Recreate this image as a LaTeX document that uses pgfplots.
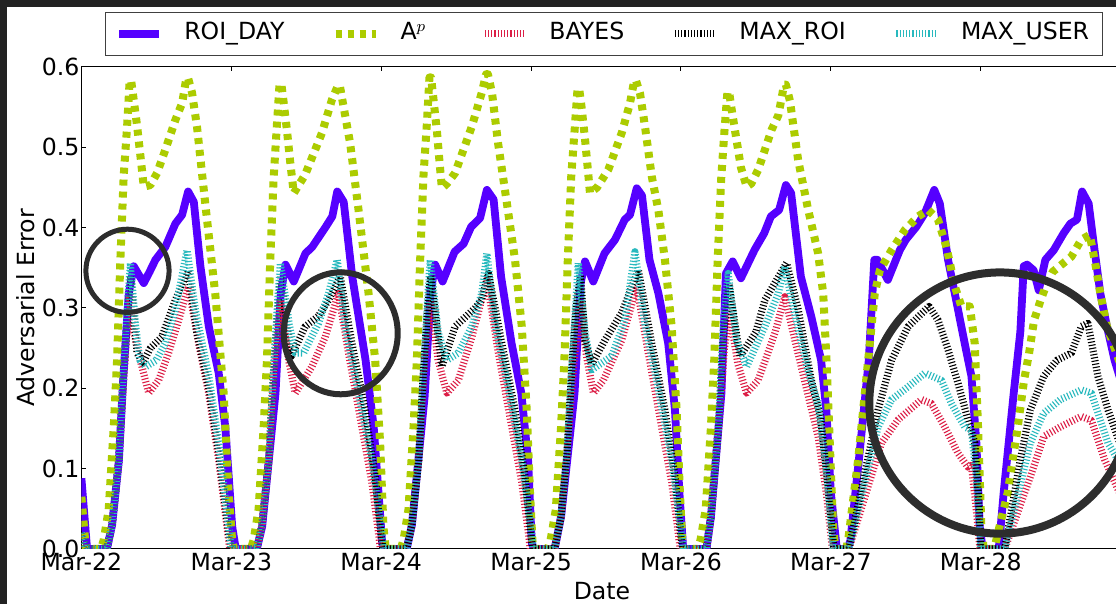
\documentclass[border=0pt]{standalone}
\usepackage{fontspec}
\setmainfont{DejaVu Sans}
\usepackage{pgfplots}
\pgfplotsset{compat=1.18}

\definecolor{roiday}{RGB}{85,0,255}
\definecolor{apcol}{RGB}{172,204,0}
\definecolor{bayes}{RGB}{220,30,70}
\definecolor{maxroi}{RGB}{0,0,0}
\definecolor{maxuser}{RGB}{40,185,190}
\definecolor{screen}{RGB}{34,34,34}
\definecolor{ring}{RGB}{45,45,45}

\newcommand{\lblfont}{\fontsize{11.8}{14}\selectfont}

\tikzset{
  hatch/.style={line width=3.6pt, dash pattern=on 0.55pt off 1.05pt, line join=round},
}

\begin{document}
\begin{tikzpicture}
\fill[white] (0,0) rectangle (558pt,302pt);
\begin{axis}[
  scale only axis,
  width=517.8pt, height=241pt,
  at={(40.7pt,27.5pt)}, anchor=south west,
  xmin=0, xmax=6.909, ymin=0, ymax=0.6,
  xtick={0,1,2,3,4,5,6},
  xticklabels={Mar-22,Mar-23,Mar-24,Mar-25,Mar-26,Mar-27,Mar-28},
  ytick={0,0.1,0.2,0.3,0.4,0.5,0.6},
  yticklabels={0.0,0.1,0.2,0.3,0.4,0.5,0.6},
  xtick pos=both, ytick pos=left,
  tick align=inside,
  major tick length=2.2pt,
  tick style={black, line width=0.5pt},
  axis line style={black, line width=0.5pt},
  tick label style={font=\lblfont},
  xticklabel style={inner ysep=2pt},
  yticklabel style={inner xsep=0.8pt},
  xlabel={Date}, ylabel={Adversarial Error},
  every axis x label/.style={at={(axis description cs:0.5027,-0.0871)}, anchor=center, font=\lblfont},
  every axis y label/.style={at={(axis description cs:-0.0535,0.5)}, rotate=90, anchor=center, font=\lblfont},
  legend columns=5,
  legend cell align=left,
  legend style={
    at={(axis description cs:0.0228,1.1141)}, anchor=north west,
    draw=black!75, line width=0.5pt,
    font=\lblfont,
    inner xsep=5pt, inner ysep=3.5pt,
    nodes={inner sep=1.5pt, text height=8.7pt, text depth=2.6pt},
    /tikz/every odd column/.append style={column sep=9pt},
    /tikz/every even column/.append style={column sep=22pt},
  },
  legend image code/.code={\draw[#1] (0pt,0pt) -- (20pt,0pt);},
]

% ROI_DAY
\addplot[roiday, line width=3.9pt, line join=round] coordinates {
(0,0.088) (0.038,0) (0.17,0) (0.205,0.03) (0.25,0.11) (0.28,0.215) (0.316,0.318) (0.349,0.352) (0.416,0.331) (0.455,0.345) (0.494,0.36) (0.56,0.376) (0.627,0.405) (0.672,0.416) (0.712,0.445) (0.75,0.432) (0.794,0.352) (0.85,0.277) (0.916,0.219) (0.96,0.152) (1.006,0.028) (1.03,0)
(1.17,0) (1.206,0.028) (1.295,0.194) (1.33,0.318) (1.362,0.354) (1.417,0.333) (1.495,0.368) (1.54,0.376) (1.63,0.401) (1.674,0.414) (1.707,0.445) (1.75,0.432) (1.807,0.339) (1.896,0.235) (1.95,0.152) (2.007,0.007) (2.02,0)
(2.17,0) (2.205,0.03) (2.29,0.19) (2.33,0.32) (2.36,0.354) (2.41,0.333) (2.49,0.37) (2.55,0.38) (2.60,0.401) (2.66,0.412) (2.705,0.447) (2.75,0.435) (2.80,0.339) (2.87,0.256) (2.935,0.194) (2.98,0.111) (3.005,0.007) (3.02,0)
(3.157,0) (3.2,0.04) (3.29,0.194) (3.33,0.33) (3.36,0.358) (3.415,0.333) (3.49,0.368) (3.56,0.385) (3.625,0.41) (3.66,0.416) (3.705,0.449) (3.74,0.44) (3.79,0.36) (3.85,0.318) (3.915,0.256) (3.96,0.173) (3.99,0.069) (4.015,0)
(4.17,0) (4.2,0.04) (4.27,0.194) (4.30,0.343) (4.345,0.358) (4.40,0.337) (4.49,0.372) (4.555,0.393) (4.60,0.414) (4.655,0.422) (4.70,0.453) (4.735,0.443) (4.80,0.339) (4.87,0.289) (4.935,0.235) (4.97,0.173) (5.0,0.07) (5.04,0)
(5.11,0) (5.13,0.01) (5.187,0.111) (5.253,0.235) (5.29,0.36) (5.31,0.36) (5.38,0.335) (5.46,0.372) (5.50,0.385) (5.57,0.401) (5.627,0.418) (5.69,0.447) (5.727,0.43) (5.782,0.36) (5.827,0.318) (5.893,0.256) (5.938,0.215) (5.971,0.132) (5.993,0.028) (6.013,0)
(6.12,0) (6.153,0.07) (6.22,0.194) (6.264,0.27) (6.287,0.352) (6.309,0.354) (6.353,0.347) (6.387,0.322) (6.431,0.36) (6.487,0.372) (6.553,0.393) (6.598,0.405) (6.642,0.41) (6.676,0.445) (6.72,0.43) (6.753,0.381) (6.798,0.318) (6.842,0.277) (6.893,0.235) (6.95,0.2)
};
\addlegendentry{ROI\_DAY}

% A^p
\addplot[apcol, line width=4pt, line join=round, dash pattern=on 3pt off 3pt] coordinates {
(0,0.065) (0.03,0) (0.13,0) (0.149,0.011) (0.182,0.049) (0.216,0.152) (0.238,0.235) (0.26,0.36) (0.282,0.464) (0.305,0.526) (0.322,0.583) (0.332,0.583) (0.349,0.559) (0.372,0.526) (0.394,0.489) (0.416,0.451) (0.46,0.453) (0.505,0.468) (0.56,0.497) (0.627,0.534) (0.672,0.555) (0.7,0.586) (0.712,0.586) (0.738,0.568) (0.771,0.526) (0.831,0.422) (0.893,0.318) (0.949,0.194) (0.982,0.07) (1.006,0.01) (1.02,0)
(1.13,0) (1.149,0.011) (1.182,0.049) (1.216,0.152) (1.238,0.235) (1.26,0.36) (1.282,0.46) (1.305,0.53) (1.322,0.579) (1.334,0.579) (1.35,0.555) (1.372,0.52) (1.394,0.48) (1.417,0.443) (1.493,0.466) (1.605,0.518) (1.671,0.559) (1.712,0.577) (1.724,0.577) (1.74,0.56) (1.793,0.505) (1.849,0.422) (1.916,0.318) (1.96,0.235) (1.993,0.132) (2.015,0.028) (2.03,0)
(2.13,0) (2.149,0.011) (2.182,0.049) (2.216,0.152) (2.238,0.235) (2.26,0.36) (2.282,0.464) (2.305,0.53) (2.322,0.587) (2.333,0.587) (2.35,0.558) (2.372,0.52) (2.39,0.48) (2.405,0.449) (2.44,0.455) (2.493,0.468) (2.605,0.526) (2.671,0.568) (2.7,0.591) (2.712,0.591) (2.74,0.567) (2.78,0.505) (2.835,0.435) (2.893,0.36) (2.938,0.277) (2.971,0.173) (2.993,0.07) (3.009,0.01) (3.02,0)
(3.11,0) (3.13,0.011) (3.165,0.049) (3.2,0.152) (3.222,0.235) (3.245,0.36) (3.268,0.464) (3.29,0.52) (3.31,0.573) (3.321,0.573) (3.337,0.55) (3.36,0.51) (3.38,0.47) (3.393,0.443) (3.44,0.45) (3.515,0.472) (3.605,0.518) (3.66,0.555) (3.688,0.583) (3.7,0.583) (3.727,0.567) (3.76,0.526) (3.805,0.464) (3.849,0.422) (3.893,0.36) (3.938,0.277) (3.971,0.173) (3.993,0.07) (4.009,0.01) (4.02,0)
(4.11,0) (4.13,0.011) (4.165,0.049) (4.2,0.152) (4.222,0.235) (4.245,0.36) (4.268,0.46) (4.29,0.52) (4.31,0.569) (4.321,0.569) (4.34,0.545) (4.37,0.51) (4.40,0.475) (4.438,0.451) (4.47,0.455) (4.515,0.472) (4.605,0.522) (4.65,0.54) (4.688,0.578) (4.7,0.578) (4.727,0.558) (4.782,0.484) (4.849,0.422) (4.915,0.368) (4.949,0.318) (4.971,0.235) (4.993,0.132) (5.015,0.028) (5.03,0)
(5.10,0) (5.115,0.01) (5.182,0.111) (5.249,0.235) (5.293,0.318) (5.327,0.347) (5.405,0.372) (5.493,0.397) (5.582,0.414) (5.649,0.422) (5.715,0.41) (5.771,0.376) (5.827,0.327) (5.871,0.302) (5.927,0.302) (5.96,0.256) (5.982,0.152) (6.004,0.028) (6.02,0)
(6.09,0) (6.115,0.02) (6.18,0.07) (6.247,0.152) (6.289,0.21) (6.322,0.243) (6.356,0.285) (6.4,0.31) (6.44,0.33) (6.48,0.345) (6.605,0.364) (6.671,0.385) (6.727,0.391) (6.76,0.36) (6.798,0.318) (6.842,0.277) (6.893,0.25) (6.95,0.22)
};
\addlegendentry{A$^p$\kern4pt}

% BAYES
\addplot[bayes, hatch] coordinates {
(0,0.02) (0.03,0) (0.17,0) (0.205,0.03) (0.25,0.11) (0.285,0.22) (0.32,0.314) (0.35,0.27) (0.393,0.235) (0.449,0.194) (0.515,0.21) (0.582,0.244) (0.649,0.285) (0.715,0.327) (0.782,0.256) (0.849,0.194) (0.916,0.111) (0.971,0.028) (0.99,0)
(1.17,0) (1.205,0.03) (1.25,0.11) (1.285,0.22) (1.328,0.31) (1.383,0.235) (1.427,0.194) (1.538,0.227) (1.627,0.264) (1.715,0.318) (1.782,0.244) (1.871,0.152) (1.938,0.083) (1.982,0.02) (1.995,0)
(2.17,0) (2.205,0.03) (2.25,0.11) (2.285,0.22) (2.327,0.31) (2.38,0.235) (2.438,0.194) (2.515,0.21) (2.605,0.264) (2.705,0.335) (2.782,0.244) (2.871,0.152) (2.938,0.083) (2.982,0.02) (2.995,0)
(3.157,0) (3.2,0.04) (3.24,0.12) (3.28,0.22) (3.327,0.306) (3.37,0.24) (3.416,0.194) (3.482,0.21) (3.605,0.26) (3.705,0.327) (3.782,0.244) (3.871,0.152) (3.938,0.083) (3.982,0.02) (3.995,0)
(4.17,0) (4.2,0.04) (4.25,0.15) (4.29,0.25) (4.325,0.294) (4.38,0.23) (4.438,0.194) (4.515,0.21) (4.627,0.269) (4.693,0.314) (4.76,0.26) (4.85,0.19) (4.915,0.14) (4.97,0.07) (5.01,0)
(5.12,0) (5.338,0.132) (5.449,0.161) (5.605,0.186) (5.671,0.181) (5.76,0.152) (5.849,0.119) (5.915,0.102) (5.938,0.104) (5.97,0.05) (5.995,0)
(6.16,0) (6.331,0.09) (6.42,0.14) (6.531,0.152) (6.671,0.165) (6.738,0.16) (6.827,0.111) (6.95,0.06)
};
\addlegendentry{BAYES}

% MAX_ROI
\addplot[maxroi, hatch] coordinates {
(0,0.02) (0.03,0) (0.17,0) (0.205,0.03) (0.25,0.11) (0.28,0.215) (0.31,0.3) (0.33,0.34) (0.371,0.244) (0.41,0.232) (0.46,0.25) (0.537,0.264) (0.627,0.31) (0.712,0.347) (0.77,0.27) (0.85,0.2) (0.916,0.12) (0.982,0.02) (1.0,0)
(1.17,0) (1.205,0.03) (1.25,0.11) (1.28,0.215) (1.31,0.3) (1.33,0.34) (1.4,0.24) (1.493,0.277) (1.582,0.29) (1.649,0.31) (1.727,0.339) (1.805,0.256) (1.893,0.173) (1.96,0.09) (2.0,0.015) (2.012,0)
(2.17,0) (2.205,0.03) (2.25,0.11) (2.28,0.215) (2.31,0.3) (2.33,0.34) (2.405,0.227) (2.493,0.277) (2.627,0.3) (2.67,0.31) (2.716,0.343) (2.805,0.256) (2.893,0.173) (2.96,0.09) (3.0,0.015) (3.012,0)
(3.157,0) (3.2,0.04) (3.24,0.12) (3.27,0.22) (3.3,0.3) (3.33,0.34) (3.36,0.26) (3.405,0.23) (3.493,0.26) (3.605,0.294) (3.716,0.347) (3.805,0.256) (3.893,0.173) (3.96,0.09) (4.0,0.015) (4.012,0)
(4.17,0) (4.2,0.04) (4.25,0.15) (4.28,0.26) (4.32,0.33) (4.38,0.256) (4.395,0.24) (4.5,0.27) (4.56,0.31) (4.705,0.356) (4.78,0.3) (4.87,0.21) (4.93,0.165) (4.98,0.08) (5.02,0)
(5.12,0) (5.315,0.173) (5.405,0.235) (5.516,0.277) (5.655,0.302) (5.715,0.285) (5.782,0.248) (5.849,0.206) (5.915,0.161) (5.96,0.132) (5.99,0.05) (6.0,0)
(6.16,0) (6.264,0.111) (6.331,0.173) (6.42,0.215) (6.509,0.235) (6.605,0.244) (6.671,0.277) (6.715,0.281) (6.782,0.215) (6.849,0.173) (6.95,0.12)
};
\addlegendentry{MAX\_ROI}

% MAX_USER
\addplot[maxuser, hatch] coordinates {
(0,0.02) (0.03,0) (0.17,0) (0.205,0.03) (0.25,0.11) (0.28,0.215) (0.31,0.31) (0.327,0.356) (0.36,0.28) (0.39,0.235) (0.43,0.227) (0.5,0.235) (0.56,0.256) (0.627,0.298) (0.705,0.372) (0.76,0.298) (0.85,0.215) (0.916,0.132) (0.982,0.028) (1.0,0)
(1.17,0) (1.205,0.03) (1.25,0.11) (1.28,0.215) (1.31,0.31) (1.328,0.356) (1.389,0.277) (1.427,0.244) (1.482,0.244) (1.582,0.281) (1.649,0.318) (1.707,0.36) (1.76,0.277) (1.849,0.194) (1.938,0.111) (2.004,0.02) (2.015,0)
(2.17,0) (2.205,0.03) (2.25,0.11) (2.28,0.215) (2.31,0.31) (2.327,0.36) (2.38,0.27) (2.438,0.235) (2.515,0.244) (2.605,0.277) (2.671,0.318) (2.705,0.368) (2.76,0.28) (2.849,0.2) (2.938,0.111) (3.004,0.02) (3.015,0)
(3.157,0) (3.2,0.04) (3.24,0.12) (3.27,0.22) (3.3,0.31) (3.315,0.356) (3.36,0.27) (3.405,0.223) (3.538,0.24) (3.627,0.285) (3.693,0.37) (3.76,0.28) (3.849,0.2) (3.938,0.111) (4.004,0.02) (4.015,0)
(4.17,0) (4.2,0.04) (4.25,0.15) (4.28,0.27) (4.315,0.343) (4.37,0.26) (4.438,0.227) (4.56,0.277) (4.649,0.318) (4.693,0.352) (4.75,0.3) (4.85,0.22) (4.915,0.18) (4.97,0.1) (5.015,0)
(5.12,0) (5.315,0.152) (5.405,0.186) (5.516,0.202) (5.627,0.219) (5.738,0.21) (5.805,0.181) (5.893,0.152) (5.938,0.148) (5.97,0.09) (6.0,0)
(6.16,0) (6.331,0.132) (6.42,0.169) (6.531,0.186) (6.671,0.198) (6.738,0.194) (6.849,0.132) (6.95,0.1)
};
\addlegendentry{MAX\_USER}

% highlight rings
\draw[ring, line width=2.5pt] (axis cs:0.3075,0.3463) circle[radius=20.8pt];
\draw[ring, line width=3pt] (axis cs:1.730,0.2685) ellipse[x radius=28.5pt, y radius=30.5pt];
\draw[ring, line width=4pt] (axis cs:6.128,0.1817) circle[radius=65.3pt];
\end{axis}
% dark screen edges
\fill[screen] (0,298.35pt) rectangle (558pt,302pt);
\fill[screen] (0,0) rectangle (3.65pt,302pt);
\pgfresetboundingbox
\useasboundingbox (0,0) rectangle (558pt,302pt);
\end{tikzpicture}
\end{document}
